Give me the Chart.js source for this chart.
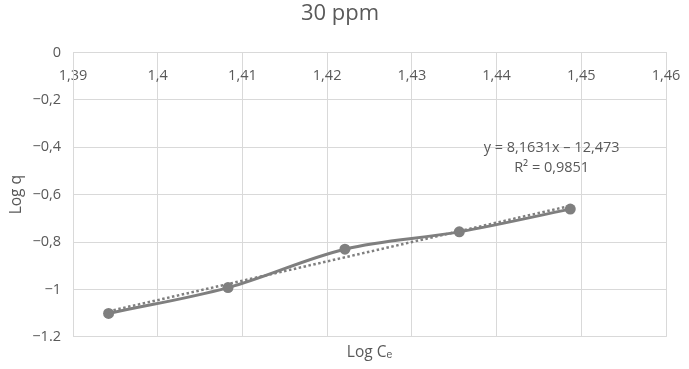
<!DOCTYPE html>
<html>
<head>
<meta charset="utf-8">
<title>30 ppm</title>
<script src="https://cdn.jsdelivr.net/npm/chart.js@4.4.1/dist/chart.umd.min.js"></script>
<style>
  html, body { margin: 0; padding: 0; background: #fff; }
  #wrap { width: 689px; height: 369px; }
</style>
</head>
<body>
<div id="wrap"><canvas id="chartLogq"></canvas></div>
<script>
'use strict';

// data
var logCe = [1.3942, 1.4083, 1.4221, 1.4356, 1.4487];
var logQ = [-1.101, -0.992, -0.830, -0.757, -0.661];

// Excel trendline, as printed on the chart
var trendSlope = 8.1631;
var trendIntercept = -12.473;
var trendLabels = ['y = 8,1631x \u2013 12,473', 'R\u00b2 = 0,9851'];

var xTickValues = [1.39, 1.40, 1.41, 1.42, 1.43, 1.44, 1.45, 1.46];
var xTickLabels = ['1,39', '1,4', '1,41', '1,42', '1,43', '1,44', '1,45', '1,46'];
var yTickValues = [0, -0.2, -0.4, -0.6, -0.8, -1, -1.2];
var yTickLabels = ['0', '\u22120,2', '\u22120,4', '\u22120,6', '\u22120,8', '\u22121', '\u22121.2'];

var grey = '#7f7f7f';
var textGrey = '#595959';
var gridGrey = '#d9d9d9';
var fontFamily = "'Open Sans', 'Liberation Sans', sans-serif";

function lookupLabel(values, labels, v) {
    for (var i = 0; i < values.length; i++) {
        if (Math.abs(values[i] - v) < 1e-6) return labels[i];
    }
    return '';
}

// fixed side padding for the horizontal axes (plot area ends ~23px from the right)
function sidePadding(scale) {
    scale.paddingLeft = 0;
    scale.paddingRight = 23;
}

var points = logCe.map(function (x, i) { return { x: x, y: logQ[i] }; });
var xFirst = logCe[0];
var xLast = logCe[logCe.length - 1];
var trendPoints = [
    { x: xFirst, y: trendSlope * xFirst + trendIntercept },
    { x: xLast, y: trendSlope * xLast + trendIntercept }
];

// writes the trendline equation next to the line
var trendTextPlugin = {
    id: 'trendText',
    afterDatasetsDraw: function (chart) {
        var ctx = chart.ctx;
        var xs = chart.scales.x;
        var ys = chart.scales.y;
        ctx.save();
        ctx.font = '14.5px ' + fontFamily;
        ctx.fillStyle = textGrey;
        ctx.textAlign = 'center';
        ctx.textBaseline = 'middle';
        ctx.fillText(trendLabels[0], xs.getPixelForValue(1.4465), ys.getPixelForValue(-0.402));
        ctx.fillText(trendLabels[1], xs.getPixelForValue(1.4465), ys.getPixelForValue(-0.487));
        ctx.restore();
    }
};

var $chart = document.getElementById('chartLogq');
var chartLogq = new Chart($chart.getContext('2d'), {
    type: 'line',
    data: {
        datasets: [
            {
                label: 'Log q',
                data: points,
                borderColor: grey,
                backgroundColor: grey,
                borderWidth: 3,
                tension: 0.35,
                pointRadius: 5.5,
                pointBackgroundColor: grey,
                pointBorderWidth: 0,
                fill: false,
                order: 1
            },
            {
                label: 'trend',
                data: trendPoints,
                borderColor: grey,
                borderWidth: 2.5,
                borderDash: [2.5, 2.5],
                pointRadius: 0,
                fill: false,
                order: 0
            }
        ]
    },
    options: {
        responsive: true,
        maintainAspectRatio: false,
        animation: false,
        layout: { padding: { left: 0, right: 9, top: 0, bottom: 0 } },
        plugins: {
            legend: { display: false },
            tooltip: { enabled: false },
            title: {
                display: true,
                text: '30 ppm',
                color: textGrey,
                font: { family: fontFamily, size: 22, weight: 'normal' },
                padding: { top: 1, bottom: 25 }
            }
        },
        scales: {
            x: {
                type: 'linear',
                position: { y: 0 },
                min: 1.39,
                max: 1.46,
                afterBuildTicks: function (scale) {
                    scale.ticks = xTickValues.map(function (v) { return { value: v }; });
                },
                afterFit: sidePadding,
                ticks: {
                    color: textGrey,
                    font: { family: fontFamily, size: 14.5 },
                    padding: 15,
                    maxRotation: 0,
                    autoSkip: false,
                    callback: function (value) { return lookupLabel(xTickValues, xTickLabels, value); }
                },
                grid: { color: gridGrey, drawTicks: false },
                border: { color: gridGrey }
            },
            x2: {
                type: 'linear',
                position: 'bottom',
                afterFit: sidePadding,
                ticks: { display: false },
                grid: { display: false, drawTicks: false },
                border: { display: false },
                title: {
                    display: true,
                    text: 'Log C\u2091',
                    color: textGrey,
                    font: { family: fontFamily, size: 15.5 },
                    padding: { top: 6.5, bottom: 7 }
                }
            },
            y: {
                type: 'linear',
                min: -1.2,
                max: 0,
                afterBuildTicks: function (scale) {
                    scale.ticks = yTickValues.slice().reverse().map(function (v) { return { value: v }; });
                },
                afterFit: function (scale) { scale.width = 73; },
                ticks: {
                    color: textGrey,
                    font: { family: fontFamily, size: 14.5 },
                    padding: 12,
                    callback: function (value) { return lookupLabel(yTickValues, yTickLabels, value); }
                },
                grid: { color: gridGrey, drawTicks: false },
                border: { color: gridGrey },
                title: {
                    display: true,
                    text: 'Log q',
                    color: textGrey,
                    font: { family: fontFamily, size: 15.5 },
                    padding: { top: 7, bottom: 0 }
                }
            }
        }
    },
    plugins: [trendTextPlugin]
});
</script>
</body>
</html>
